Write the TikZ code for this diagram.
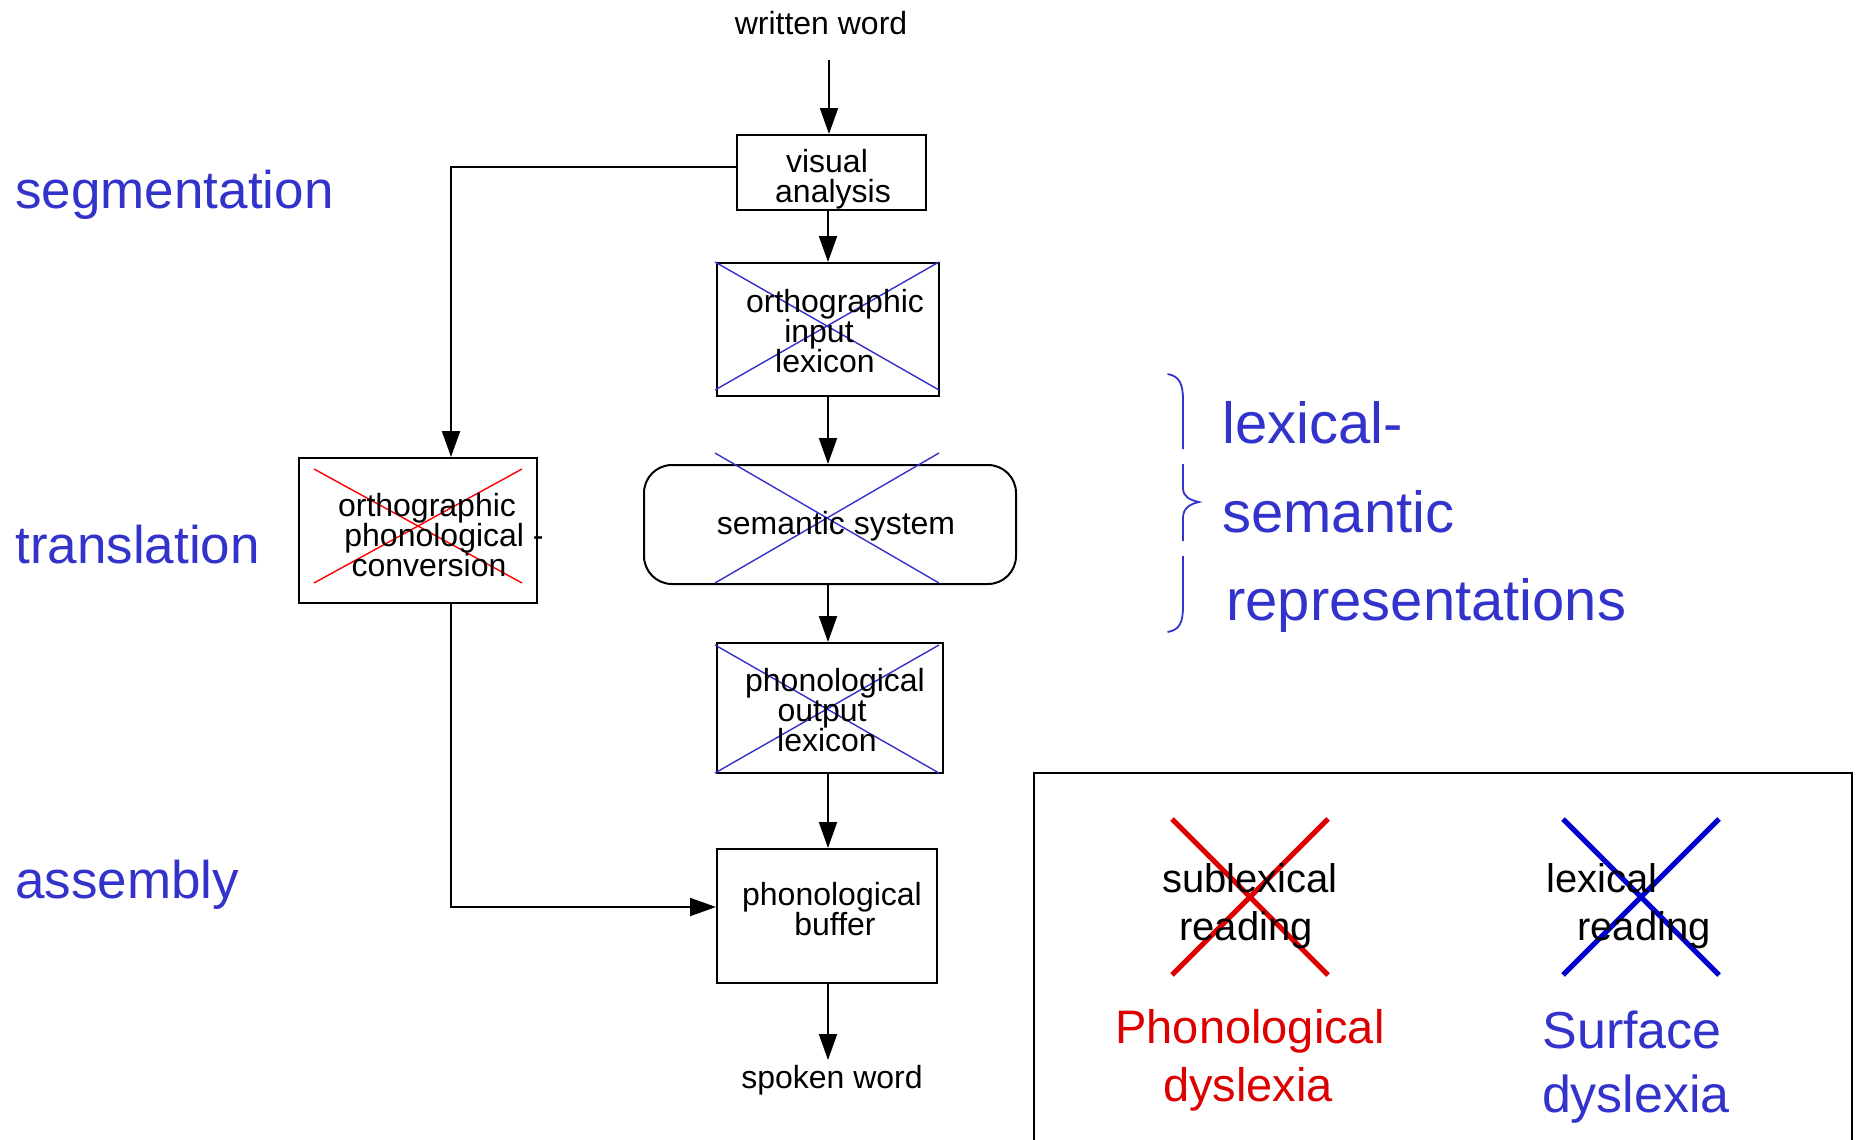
\documentclass[tikz,border=0pt]{standalone}
\usepackage{fontspec}
\setmainfont{Liberation Sans}
\usetikzlibrary{arrows.meta}
\definecolor{lblue}{RGB}{51,51,204}
\definecolor{xblue}{RGB}{0,0,204}
\definecolor{lred}{RGB}{220,0,0}
\begin{document}
\begin{tikzpicture}[x=0.5pt,y=-0.5pt,
  box/.style={draw,line width=1pt,inner sep=0pt,minimum width=#1},
  txt/.style={font=\fontsize{16}{16}\selectfont,inner sep=0pt,anchor=base},
  side/.style={font=\fontsize{26.5}{26.5}\selectfont,text=lblue,inner sep=0pt,anchor=base west},
  lsr/.style={font=\fontsize{29}{29}\selectfont,text=lblue,inner sep=0pt,anchor=base west},
  leg/.style={font=\fontsize{20}{20}\selectfont,inner sep=0pt,anchor=base},
  arr/.style={line width=1pt,-{Triangle[length=13pt,width=9pt]}},
  thinx/.style={line width=0.7pt},
  bigx/.style={line width=2.5pt}]
\useasboundingbox[fill=white] (0,0) rectangle (1860,1140);

% side labels
\node[side] (seg) at (15,208) {segmentation};
\node[side] (tra) at (15,563) {translation};
\node[side] (ass) at (15,898) {assembly};

% boxes
\node[box=189pt/2, minimum height=75pt/2] (va) at (831.5,172.5) {};
\node[box=222pt/2, minimum height=133pt/2] (oil) at (828,329.5) {};
\node[draw,line width=1pt,inner sep=0pt,rounded corners=14pt,minimum width=372pt/2,minimum height=119pt/2] (sem) at (830,524.5) {};
\node[box=226pt/2, minimum height=130pt/2] (pol) at (830,708) {};
\node[box=220pt/2, minimum height=134pt/2] (buf) at (827,916) {};
\node[box=238pt/2, minimum height=145pt/2] (opc) at (418,530.5) {};

% crosses
\draw[thinx,lblue] (715,262) -- (939,390) (715,390) -- (939,262);
\draw[thinx,lblue] (715,453) -- (939,583) (715,583) -- (939,453);
\draw[thinx,lblue] (715,645) -- (939,773) (715,773) -- (939,645);
\draw[thinx,red] (314,469) -- (522,583) (314,583) -- (522,469);

% texts
\node[txt] (ww) at (821,34) {written word};
\node[txt] (va1) at (827,172) {visual};
\node[txt] (va2) at (833,202) {analysis};
\node[txt] (oil1) at (835,312) {orthographic};
\node[txt] (oil2) at (819,342) {input};
\node[txt] (oil3) at (825,372) {lexicon};
\node[txt] (sem1) at (836,534) {semantic system};
\node[txt] (pol1) at (835,691) {phonological};
\node[txt] (pol2) at (822,721) {output};
\node[txt] (pol3) at (827,751) {lexicon};
\node[txt] (buf1) at (832,905) {phonological};
\node[txt] (buf2) at (835,935) {buffer};
\node[txt] (sw) at (832,1088) {spoken word};
\node[txt] (opc1) at (427,516) {orthographic};
\node[txt,anchor=base west] (opc2) at (344,546) {phonological -};
\node[txt] (opc3) at (429,576) {conversion};

% connectors
\coordinate (sp) at (828,0);
\coordinate (wwend) at (829,60);
\draw[arr] (wwend) -- (wwend |- va.north);
\draw[arr] (va.south -| sp) -- (oil.north -| sp);
\draw[arr] (oil.south -| sp) -- (sem.north -| sp);
\draw[arr] (sem.south -| sp) -- (pol.north -| sp);
\draw[arr] (pol.south -| sp) -- (buf.north -| sp);
\coordinate (swtop) at (828,1060);
\draw[arr] (buf.south -| sp) -- (swtop);
\draw[arr] ([yshift=2.75pt]va.west) -| ([xshift=16.5pt]opc.north);
\draw[arr] ([xshift=16.5pt]opc.south) |- ([yshift=4.5pt]buf.west);

% brace
\draw[lblue,line width=0.9pt]
  (1167.5,374) .. controls (1180,376) and (1183,385) .. (1183,400) -- (1183,449);
\draw[lblue,line width=0.9pt]
  (1183,464) -- (1183,488) .. controls (1183,497) and (1190,500) .. (1199,502)
  .. controls (1190,504) and (1183,508) .. (1183,518) -- (1183,541);
\draw[lblue,line width=0.9pt]
  (1183,556) -- (1183,606) .. controls (1183,622) and (1180,630) .. (1167.5,632);
\node[lsr] (lx1) at (1222,443) {lexical-};
\node[lsr] (lx2) at (1222,532) {semantic};
\node[lsr] (lx3) at (1226,620) {representations};

% legend
\draw[line width=1pt] (1034,1142) -- (1034,773) -- (1852,773) -- (1852,1142);
\draw[bigx,lred] (1172,819) -- (1328,975) (1172,975) -- (1328,819);
\draw[bigx,xblue] (1563,819) -- (1719,975) (1563,975) -- (1719,819);
\node[leg] (l1) at (1250,892) {sublexical};
\node[leg] (l2) at (1246,940) {reading};
\node[leg,anchor=base west] (l3) at (1546,892) {lexical};
\node[leg] (l4) at (1644,940) {reading};
\node[font=\fontsize{23.5}{23.5}\selectfont,text=lred,inner sep=0pt,anchor=base] (pd1) at (1250,1043) {Phonological};
\node[font=\fontsize{23.5}{23.5}\selectfont,text=lred,inner sep=0pt,anchor=base] (pd2) at (1248,1101) {dyslexia};
\node[font=\fontsize{26}{26}\selectfont,text=lblue,inner sep=0pt,anchor=base] (sd1) at (1632,1048) {Surface};
\node[font=\fontsize{26}{26}\selectfont,text=lblue,inner sep=0pt,anchor=base] (sd2) at (1636,1112) {dyslexia};
\end{tikzpicture}
\end{document}
